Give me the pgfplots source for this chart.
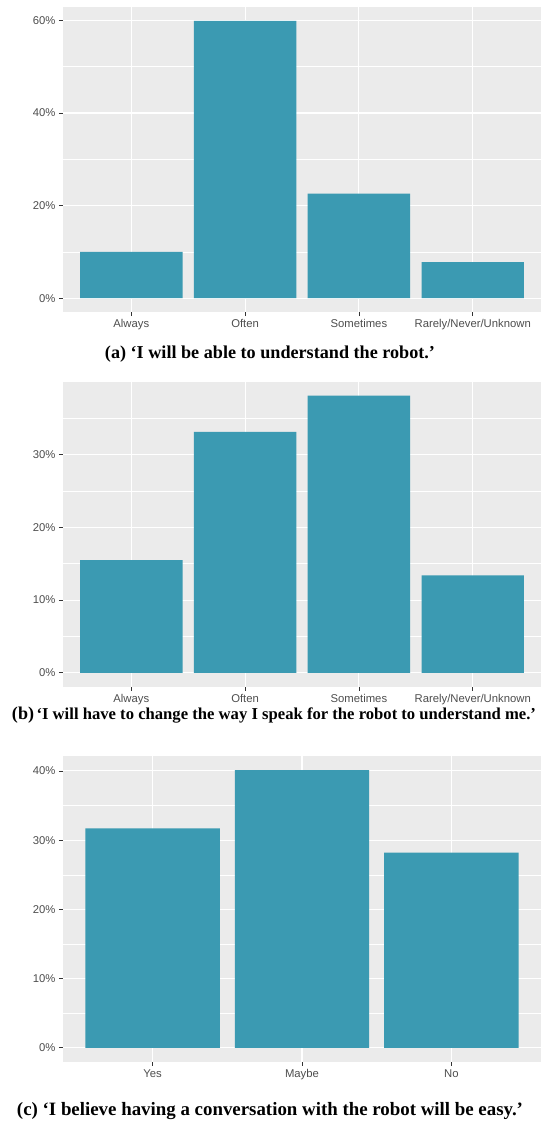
\documentclass[border=0pt]{standalone}
\usepackage{fontspec}
\setmainfont{Liberation Sans}
\newfontfamily\capfont{Liberation Serif}
\usepackage{pgfplots}
\pgfplotsset{compat=1.18}
\definecolor{ggbg}{HTML}{EBEBEB}
\definecolor{barc}{HTML}{3B9AB2}
\definecolor{ggtxt}{HTML}{4D4D4D}
\definecolor{ggtick}{HTML}{333333}
\pgfplotsset{gg/.style={
  scale only axis, width=478pt, anchor=north west,
  axis background/.style={fill=ggbg},
  axis line style={draw=none},
  tick align=outside, xtick pos=bottom, ytick pos=left,
  major tick length=4pt, minor tick length=0pt,
  tick style={ggtick, line width=0.8pt},
  grid=both,
  major grid style={white, line width=1.1pt},
  minor grid style={white, line width=0.55pt},
  ticklabel style={font=\fontsize{11.3}{13}\selectfont, text=ggtxt},
  xticklabel style={text height=8.2pt},
  ybar, bar width=0.9, xmin=0.4,
}}
\begin{document}
\begin{tikzpicture}
\useasboundingbox (0,0) rectangle (544pt,-1122pt);
\begin{axis}[gg, at={(63pt,-7pt)}, height=305pt,
  xmax=4.6, ymin=-3, ymax=62.9,
  xtick={1,2,3,4}, xticklabels={Always,Often,Sometimes,Rarely/Never/Unknown},
  ytick={0,20,40,60}, yticklabels={0\%,20\%,40\%,60\%}, minor ytick={10,30,50}]
\addplot[fill=barc, draw=none] coordinates {(1,10.0) (2,59.9) (3,22.6) (4,7.8)};
\end{axis}
\begin{axis}[gg, at={(63pt,-381.7pt)}, height=305pt,
  xmax=4.6, ymin=-1.9, ymax=40.0,
  xtick={1,2,3,4}, xticklabels={Always,Often,Sometimes,Rarely/Never/Unknown},
  ytick={0,10,20,30}, yticklabels={0\%,10\%,20\%,30\%}, minor ytick={5,15,25,35}]
\addplot[fill=barc, draw=none] coordinates {(1,15.5) (2,33.1) (3,38.1) (4,13.4)};
\end{axis}
\begin{axis}[gg, at={(63pt,-755.7pt)}, height=306pt,
  xmax=3.6, ymin=-2.0, ymax=42.2,
  xtick={1,2,3}, xticklabels={Yes,Maybe,No},
  ytick={0,10,20,30,40}, yticklabels={0\%,10\%,20\%,30\%,40\%}, minor ytick={5,15,25,35}]
\addplot[fill=barc, draw=none] coordinates {(1,31.7) (2,40.1) (3,28.2)};
\end{axis}
\node[anchor=base, inner sep=0pt, font=\capfont\bfseries\fontsize{18}{20}\selectfont] at (270pt,-358pt)
  {\resizebox{330pt}{!}{(a) ‘I will be able to understand the robot.’}};
\node[anchor=base, inner sep=0pt, font=\capfont\bfseries] at (274pt,-719pt)
  {\resizebox{524pt}{!}{{\fontsize{18}{20}\selectfont (b)} {\fontsize{16.6}{20}\selectfont ‘I will have to change the way I speak for the robot to understand me.’}}};
\node[anchor=base, inner sep=0pt, font=\capfont\bfseries\fontsize{18}{20}\selectfont] at (270pt,-1115pt)
  {\resizebox{506pt}{!}{(c) ‘I believe having a conversation with the robot will be easy.’}};
\end{tikzpicture}
\end{document}
